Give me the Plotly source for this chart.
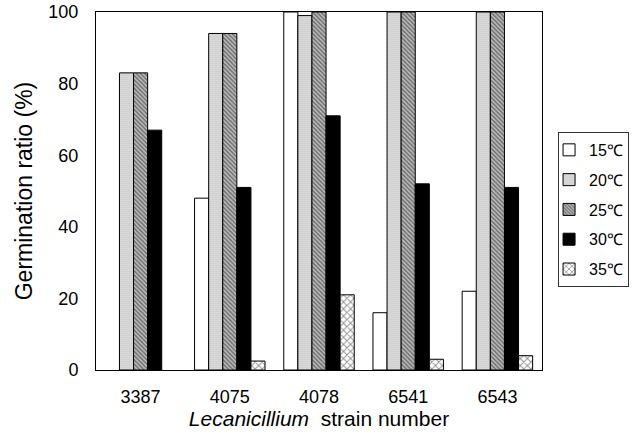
import plotly.graph_objects as go

strains = ["3387", "4075", "4078", "6541", "6543"]
temps = ["15℃", "20℃", "25℃", "30℃", "35℃"]
v15 = [None, 48, 100, 16, 22]
v20 = [83, 94, 99, 100, 100]
v25 = [83, 94, 100, 100, 100]
v30 = [67, 51, 71, 52, 51]
v35 = [None, 2.5, 21, 3, 4]
yticks = [0, 20, 40, 60, 80, 100]

series = [v15, v20, v25, v30, v35]
styles = [
    dict(color="white", pattern=None),
    dict(color="#e6e6e6", pattern=dict(shape=".", fgcolor="#555555", bgcolor="#e4e4e4", size=2, solidity=0.3)),
    dict(color="#bbbbbb", pattern=dict(shape="\\", fgcolor="#222222", bgcolor="#bdbdbd", size=3, solidity=0.5)),
    dict(color="black", pattern=None),
    dict(color="white", pattern=dict(shape="x", fgcolor="#222222", bgcolor="white", size=5, solidity=0.35)),
]

fig = go.Figure()
for i, (name, vals, st) in enumerate(zip(temps, series, styles)):
    marker = dict(color=st["color"], line=dict(color="black", width=1))
    if st["pattern"]:
        marker["pattern"] = st["pattern"]
    fig.add_trace(go.Bar(x=strains, y=vals, name=name, marker=marker, legendgroup="g%d" % i))

font = "Liberation Sans, Arial, sans-serif"
fig.update_layout(
    width=638, height=439,
    margin=dict(l=96, r=96, t=12, b=69, autoexpand=False),
    paper_bgcolor="white", plot_bgcolor="white",
    barmode="group", bargap=0.21, bargroupgap=0,
    font=dict(family=font, size=16, color="black"),
    legend=dict(x=1.036, y=0.665, xanchor="left", yanchor="top",
                bordercolor="#333333", borderwidth=1, font=dict(size=16),
                itemwidth=30, tracegroupgap=6, traceorder="grouped", indentation=-10),
    xaxis=dict(
        showline=True, linecolor="black", linewidth=1, mirror=True, automargin=False,
        ticks="", ticklabelstandoff=10, tickfont=dict(size=18),
        title=dict(text="<i>Lecanicillium</i>  strain number", font=dict(size=21), standoff=5),
    ),
    yaxis=dict(
        range=[0, 100], tickvals=yticks, showgrid=False, zeroline=False, automargin=False,
        showline=True, linecolor="black", linewidth=1, mirror=True,
        ticks="", ticklabelstandoff=13, tickfont=dict(size=18),
        title=dict(text="Germination ratio (%)", font=dict(size=23), standoff=9),
    ),
)

fig.write_html("out.html", config={"displayModeBar": False},
               post_script="document.body.style.margin='0';")
